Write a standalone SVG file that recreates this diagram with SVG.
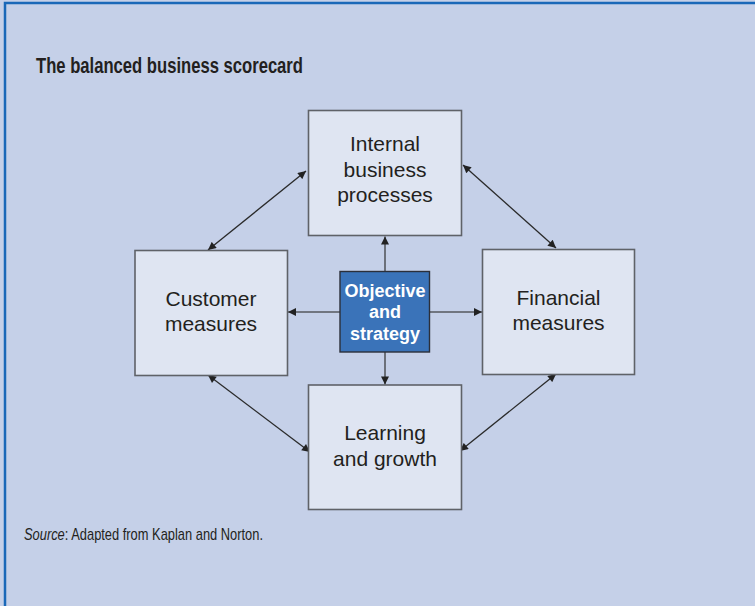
<svg xmlns="http://www.w3.org/2000/svg" width="755" height="606" viewBox="0 0 755 606">
<defs>
<marker id="ah" viewBox="0 0 10 10" refX="10" refY="5" markerWidth="9" markerHeight="8" markerUnits="userSpaceOnUse" orient="auto-start-reverse">
<path d="M0,0 L10,5 L0,10 z" fill="#222"/>
</marker>
</defs>
<style>
.box{fill:#dfe5f2;stroke:#5f6268;stroke-width:1.6}
.lbl{font-family:"Liberation Sans",Arial,sans-serif;font-size:21px;fill:#231f20;text-anchor:middle}
.ctr{font-family:"Liberation Sans",Arial,sans-serif;font-size:18px;font-weight:bold;fill:#ffffff;text-anchor:middle}
.st{stroke:#55585e;stroke-width:1.6;fill:none}
.dg{stroke:#2a2a2a;stroke-width:1.3;fill:none}
.src{font-family:"Liberation Sans",Arial,sans-serif;font-size:17px;fill:#231f20}
</style>
<rect x="0" y="0" width="755" height="606" fill="#c5d0e8"/>
<rect x="5" y="3" width="770" height="620" fill="none" stroke="#1a68b8" stroke-width="2.5"/>
<text x="36" y="73" font-family="Liberation Sans,Arial,sans-serif" font-size="21.5" font-weight="bold" fill="#231f20" textLength="267" lengthAdjust="spacingAndGlyphs">The balanced business scorecard</text>
<g id="connectors">
<line class="st" x1="385" y1="271" x2="385" y2="236.5" marker-end="url(#ah)"/>
<line class="st" x1="385" y1="352" x2="385" y2="384.5" marker-end="url(#ah)"/>
<line class="st" x1="340" y1="312" x2="288" y2="312" marker-end="url(#ah)"/>
<line class="st" x1="430" y1="312" x2="482" y2="312" marker-end="url(#ah)"/>
<line class="dg" x1="306" y1="171" x2="208" y2="250" marker-start="url(#ah)" marker-end="url(#ah)"/>
<line class="dg" x1="463" y1="165" x2="556" y2="248" marker-start="url(#ah)" marker-end="url(#ah)"/>
<line class="dg" x1="208" y1="375" x2="310" y2="452" marker-start="url(#ah)" marker-end="url(#ah)"/>
<line class="dg" x1="556" y1="374" x2="460" y2="451" marker-start="url(#ah)" marker-end="url(#ah)"/>
</g>
<g id="internal">
<rect class="box" x="308.5" y="110.5" width="153" height="125"/>
<text class="lbl" x="385" y="151">Internal</text>
<text class="lbl" x="385" y="176.5">business</text>
<text class="lbl" x="385" y="201.5">processes</text>
</g>
<g id="customer">
<rect class="box" x="135" y="250.5" width="152.5" height="125"/>
<text class="lbl" x="211" y="305.5">Customer</text>
<text class="lbl" x="211" y="331">measures</text>
</g>
<g id="financial">
<rect class="box" x="482.5" y="249.5" width="152" height="125"/>
<text class="lbl" x="558.5" y="305">Financial</text>
<text class="lbl" x="558.5" y="330">measures</text>
</g>
<g id="learning">
<rect class="box" x="308.5" y="385" width="153" height="124.5"/>
<text class="lbl" x="385" y="440">Learning</text>
<text class="lbl" x="385" y="466">and growth</text>
</g>
<g id="objective">
<rect x="340" y="271.5" width="89.5" height="80.5" fill="#3a73b9" stroke="#2b2f3a" stroke-width="1.4"/>
<text class="ctr" x="385" y="296.5">Objective</text>
<text class="ctr" x="385" y="318">and</text>
<text class="ctr" x="385" y="340">strategy</text>
</g>
<text class="src" x="24" y="540" textLength="239" lengthAdjust="spacingAndGlyphs"><tspan font-style="italic">Source</tspan>: Adapted from Kaplan and Norton.</text>
</svg>
